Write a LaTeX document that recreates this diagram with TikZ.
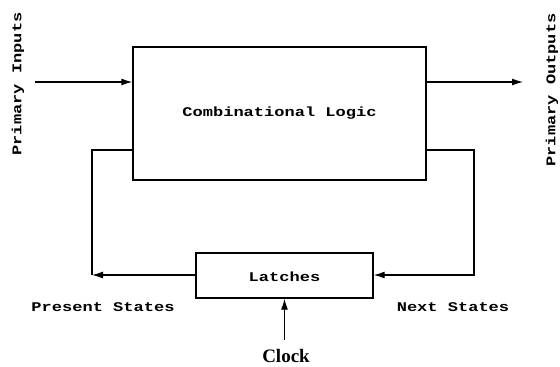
\documentclass[tikz,border=0pt]{standalone}
\usepackage{fontspec}
\newfontfamily\typew[FakeStretch=1.28]{Liberation Mono}
\newfontfamily\serf{Liberation Serif}
\usetikzlibrary{arrows.meta}
\begin{document}
\begin{tikzpicture}[x=1pt,y=-1pt,
  box/.style={draw,line width=1.4pt,inner sep=0pt},
  wire/.style={line width=1.2pt},
  arr/.style={wire,-{Latex[length=11pt,width=7pt]}},
  lbl/.style={font=\typew\bfseries\fontsize{13.3}{15}\selectfont,inner sep=0pt}]
\useasboundingbox (0,0) rectangle (560,367);
\node[box,minimum width=293pt,minimum height=133pt] (cl) at (279.5,113.5) {};
\node[lbl] (cltext) at (279.5,113) {Combinational Logic};
\node[box,minimum width=177pt,minimum height=45pt] (lat) at (284.5,275.5) {};
\node[lbl] (lattext) at (284.5,277) {Latches};
\coordinate (inS) at (35,82);
\coordinate (outE) at (523,82);
\draw[arr] (inS) -- (inS -| cl.west);
\draw[arr] (outE -| cl.east) -- (outE);
\coordinate (lfA) at (92,150);
\coordinate (lfB) at (92,275);
\coordinate (rfA) at (474,150);
\coordinate (rfB) at (474,275);
\draw[wire] (lfA -| cl.west) -- (lfA) -- (lfB);
\draw[arr] (lat.west |- lfB) -- (lfB);
\draw[arr] (rfA -| cl.east) -- (rfA) -- (rfB) -- (rfB -| lat.east);
\coordinate (clk) at (284.5,340);
\draw[arr] (clk) -- (lat.south);
\node[font=\serf\bfseries\fontsize{19}{21}\selectfont,inner sep=0pt] (clock) at (286,356) {Clock};
\node[lbl] (ps) at (103,307) {Present States};
\node[lbl] (ns) at (453,307) {Next States};
\node[lbl,rotate=90] (pi) at (18,84) {Primary Inputs};
\node[lbl,rotate=90] (po) at (552,90) {Primary Outputs};
\end{tikzpicture}
\end{document}
